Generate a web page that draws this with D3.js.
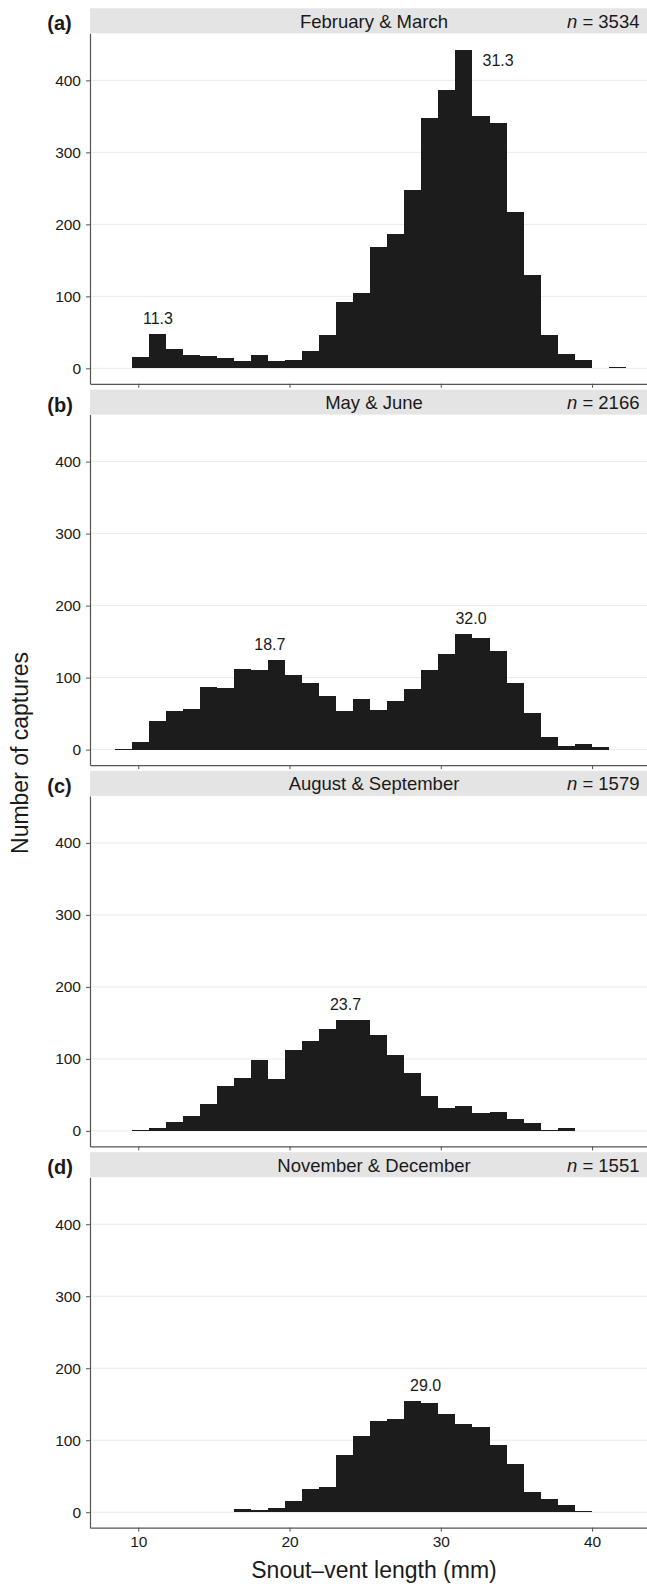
<!DOCTYPE html>
<html>
<head>
<meta charset="utf-8">
<script src="https://cdn.jsdelivr.net/npm/d3@7"></script>
<style>
  body { margin: 0; background: #fff; }
  svg { display: block; font-family: "Liberation Sans", Arial, sans-serif; }
</style>
</head>
<body>
<svg id="chart"></svg>
<script>
// histogram bins (30 bins shared by all panels), snout-vent length in mm
const BIN_START = 8.45;
const BIN_WIDTH = 1.126;

const panelTags = ["(a)", "(b)", "(c)", "(d)"];
const panelTitles = ["February & March", "May & June", "August & September", "November & December"];
const panelN = [3534, 2166, 1579, 1551];

// counts per bin
const febMar = [0, 16, 48, 27, 18, 17, 15, 10, 18, 10, 11, 24, 46, 92, 105, 168, 186, 248, 347, 386, 442, 351, 341, 217, 129, 46, 20, 12, 0, 2];
const mayJun = [1, 11, 40, 54, 56, 87, 86, 112, 110, 124, 104, 93, 74, 54, 70, 55, 68, 84, 110, 133, 160, 155, 137, 93, 51, 17, 5, 8, 4, 0];
const augSep = [0, 1, 4, 12, 21, 37, 62, 73, 99, 72, 112, 125, 142, 154, 154, 133, 105, 80, 48, 32, 35, 25, 26, 17, 11, 1, 4, 0, 0, 0];
const novDec = [0, 0, 0, 0, 0, 0, 0, 5, 3, 6, 16, 32, 35, 79, 106, 126, 129, 155, 151, 137, 123, 118, 93, 67, 28, 18, 10, 2, 0, 0];

// modal lengths marked on each panel
const modesFebMar = [11.3, 31.3];
const modesMayJun = [18.7, 32.0];
const modesAugSep = [23.7];
const modesNovDec = [29.0];

const yTicks = [0, 100, 200, 300, 400];
const xTicks = [10, 20, 30, 40];

const panels = [
    { counts: febMar, modes: modesFebMar },
    { counts: mayJun, modes: modesMayJun },
    { counts: augSep, modes: modesAugSep },
    { counts: novDec, modes: modesNovDec }
].map((p, i) => Object.assign(p, { tag: panelTags[i], title: panelTitles[i], n: panelN[i] }));

const WIDTH = 647, HEIGHT = 1584;
const LEFT = 90, RIGHT = 658;
const TOP0 = 8.3, STEP = 381.3;
const STRIP_H = 25, AXIS_Y = 375.5;

const TEXT = '#1a1a1a';
const AXIS = '#555';

const svg = d3.select('#chart')
    .attr('width', WIDTH)
    .attr('height', HEIGHT);

const x = d3.scaleLinear()
    .domain([6.81, 44.36])
    .range([LEFT, RIGHT]);

const y = d3.scaleLinear()
    .domain([-21.5, 465.3])
    .range([AXIS_Y, STRIP_H]);

const edge = i => BIN_START + i * BIN_WIDTH;

panels.forEach((p, pi) => {
    const g = svg.append('g')
        .attr('transform', 'translate(0,' + (TOP0 + pi * STEP) + ')');

    // strip
    g.append('rect')
        .attr('x', LEFT).attr('y', 0)
        .attr('width', RIGHT - LEFT).attr('height', STRIP_H)
        .attr('fill', '#e4e4e4');

    g.append('text')
        .attr('x', (LEFT + RIGHT) / 2).attr('y', 19.4)
        .attr('text-anchor', 'middle')
        .style('font-size', '18.5px').attr('fill', TEXT)
        .text(p.title);

    const nt = g.append('text')
        .attr('x', 639.5).attr('y', 19.4)
        .attr('text-anchor', 'end')
        .style('font-size', '18.5px').attr('fill', TEXT);
    nt.append('tspan').style('font-style', 'italic').text('n');
    nt.append('tspan').text(' = ' + p.n);

    g.append('text')
        .attr('x', 47.3).attr('y', 22)
        .style('font-size', '20px').style('font-weight', 'bold').attr('fill', TEXT)
        .text(p.tag);

    // grid
    g.selectAll('.grid')
        .data(yTicks)
        .enter().append('line')
        .attr('x1', LEFT).attr('x2', RIGHT)
        .attr('y1', d => y(d)).attr('y2', d => y(d))
        .attr('stroke', '#e9e9e9').attr('stroke-width', 1);

    // bars
    g.selectAll('.bar')
        .data(p.counts.map((c, i) => ({ c, i })).filter(d => d.c > 0))
        .enter().append('rect')
        .attr('x', d => x(edge(d.i)))
        .attr('width', d => x(edge(d.i + 1)) - x(edge(d.i)))
        .attr('y', d => y(d.c))
        .attr('height', d => y(0) - y(d.c))
        .attr('fill', '#1c1c1c')
        .attr('shape-rendering', 'crispEdges');

    // axes
    const ya = g.append('g')
        .attr('transform', 'translate(' + LEFT + ',0)')
        .call(d3.axisLeft(y).tickValues(yTicks).tickSize(4).tickSizeOuter(0).tickPadding(5));

    const xa = g.append('g')
        .attr('transform', 'translate(0,' + AXIS_Y + ')')
        .call(d3.axisBottom(x).tickValues(xTicks).tickSize(4).tickSizeOuter(0).tickPadding(4)
            .tickFormat(pi === panels.length - 1 ? d3.format('d') : ''));

    [ya, xa].forEach(a => {
        a.select('.domain').attr('stroke', AXIS).attr('stroke-width', 1.2);
        a.selectAll('.tick line').attr('stroke', AXIS);
        a.selectAll('.tick text')
            .attr('fill', TEXT)
            .style('font-size', '15.5px')
            .style('font-family', '"Liberation Sans", Arial, sans-serif');
    });

    // mode labels
    p.modes.forEach(m => {
        const bi = Math.floor((m - BIN_START) / BIN_WIDTH);
        const local = d3.max(p.counts.slice(Math.max(0, bi - 1), bi + 2));
        let ly = y(local) - 10;
        const t = g.append('text')
            .style('font-size', '16px').attr('fill', TEXT)
            .text(m.toFixed(1));
        if (ly - 12 < STRIP_H + 4) {
            // no room above the peak: put the label beside it
            t.attr('x', x(edge(bi + 1)) + 10).attr('y', y(local) + 16)
                .attr('text-anchor', 'start');
        } else {
            t.attr('x', x(m)).attr('y', ly)
                .attr('text-anchor', 'middle');
        }
    });
});

// axis titles
svg.append('text')
    .attr('transform', 'translate(28,753) rotate(-90)')
    .attr('text-anchor', 'middle')
    .style('font-size', '23px').attr('fill', TEXT)
    .text('Number of captures');

svg.append('text')
    .attr('x', (LEFT + RIGHT) / 2).attr('y', 1578)
    .attr('text-anchor', 'middle')
    .style('font-size', '23px').attr('fill', TEXT)
    .text('Snout–vent length (mm)');
</script>
</body>
</html>
